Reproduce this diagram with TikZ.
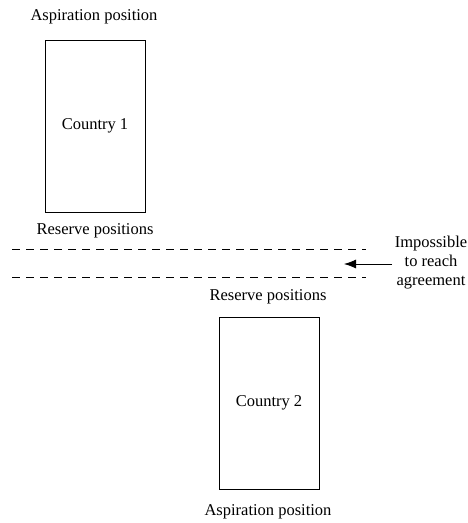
\documentclass[tikz,border=0pt]{standalone}
\usepackage{fontspec}
\setmainfont{Liberation Serif}
\usetikzlibrary{arrows.meta}
\begin{document}
\begin{tikzpicture}[x=1pt,y=-1pt,
  country/.style={draw,line width=0.8pt,minimum width=100pt,minimum height=172pt,inner sep=0pt,font=\fontsize{16.5}{19}\selectfont},
  lbl/.style={font=\fontsize{16.5}{19}\selectfont,inner sep=0pt},
  dline/.style={dash pattern=on 8pt off 6pt,line width=0.7pt},
  every node/.style={text=black}]
\useasboundingbox (0,0) rectangle (467,523);
\node[country] (c1) at (95,126) {Country 1};
\node[country] (c2) at (269,403) {Country 2};
\node[lbl] (asp1) at (94,17) {Aspiration position};
\node[lbl] (res1) at (95,231) {Reserve positions};
\node[lbl] (res2) at (268,297) {Reserve positions};
\node[lbl] (asp2) at (268,512) {Aspiration position};
\coordinate (d1a) at (12,249);
\coordinate (d1b) at (366,249);
\coordinate (d2a) at (12,277);
\coordinate (d2b) at (366,277);
\draw[dline] (d1a) -- (d1b);
\draw[dline] (d2a) -- (d2b);
\node[lbl,align=center] (imp) at (431,263) {Impossible\\to reach\\agreement};
\coordinate (as) at (392,264);
\coordinate (tip) at (344,264);
\draw[line width=0.8pt,-{Latex[length=12pt,width=9pt]}] (as) -- (tip);
\end{tikzpicture}
\end{document}
